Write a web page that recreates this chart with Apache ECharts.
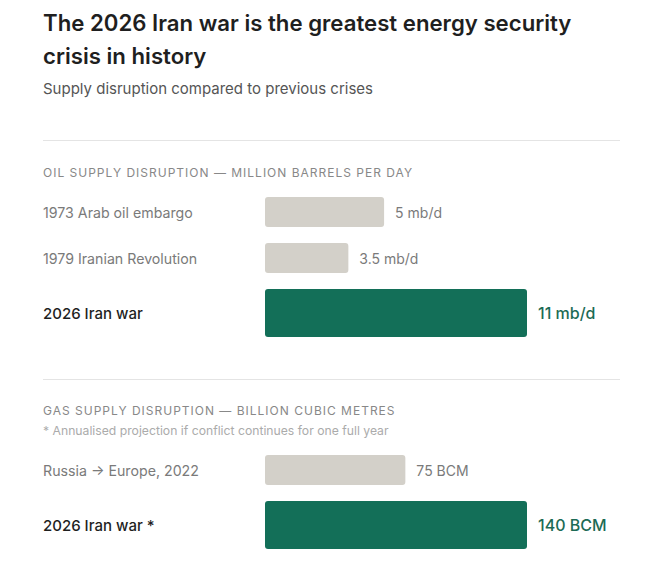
<!DOCTYPE html>
<html>
<head>
<meta charset="utf-8">
<script src="https://cdn.jsdelivr.net/npm/echarts@6/dist/echarts.min.js"></script>
<style>
  html, body { margin: 0; padding: 0; background: #ffffff; }
  #chart { width: 659px; height: 585px; }
  /* tracking for the small-caps section headers */
  #chart svg text[style*="sectioncaps"] { letter-spacing: 1px; }
</style>
</head>
<body>
<div id="chart"></div>
<script>
// ---- Data ----
const titleText = 'The 2026 Iran war is the greatest energy security\ncrisis in history';
const subtitleText = 'Supply disruption compared to previous crises';

const oilSectionLabel = 'OIL SUPPLY DISRUPTION — MILLION BARRELS PER DAY';
const oilCategories = ['1973 Arab oil embargo', '1979 Iranian Revolution', '2026 Iran war'];
const oilValues = [5, 3.5, 11];
const oilHighlight = [false, false, true];
const oilUnit = 'mb/d';

const gasSectionLabel = 'GAS SUPPLY DISRUPTION — BILLION CUBIC METRES';
const gasFootnote = '* Annualised projection if conflict continues for one full year';
const gasCategories = ['Russia → Europe, 2022', '2026 Iran war *'];
const gasValues = [75, 140];
const gasHighlight = [false, true];
const gasUnit = 'BCM';

// ---- Styles / layout ----
const FONT = 'Inter, "Noto Sans", "Liberation Sans", sans-serif';
const CAPS_FONT = 'Inter, sectioncaps, "Noto Sans", sans-serif';
const GRAY_BAR = '#d3d0c9';
const GREEN_BAR = '#136f58';
const GREEN_TEXT = '#1c6b55';
const LEFT = 43;
const BAR_LEFT = 265;
const BAR_WIDTH = 262;
const ROW_GAP = 16;
const NORMAL_H = 30;
const HIGHLIGHT_H = 48;

const grids = [], xAxes = [], yAxes = [], series = [];

function addSection(categories, values, highlight, unit, startTop) {
  const max = Math.max(...values);
  let top = startTop;
  categories.forEach((cat, i) => {
    const hl = highlight[i];
    const h = hl ? HIGHLIGHT_H : NORMAL_H;
    const idx = grids.length;
    grids.push({ left: BAR_LEFT, top: top, width: BAR_WIDTH, height: h, containLabel: false });
    xAxes.push({ type: 'value', gridIndex: idx, min: 0, max: max, show: false });
    yAxes.push({
      type: 'category', gridIndex: idx, data: [cat],
      axisLine: { show: false }, axisTick: { show: false }, splitLine: { show: false },
      axisLabel: {
        align: 'left', margin: BAR_LEFT - LEFT,
        fontFamily: FONT,
        fontSize: hl ? 15 : 14.2,
        color: hl ? '#1f1f1f' : '#7a7a7a',
        fontWeight: hl ? 500 : 400
      }
    });
    series.push({
      type: 'bar', xAxisIndex: idx, yAxisIndex: idx,
      data: [values[i]],
      barWidth: '100%',
      silent: true,
      itemStyle: { color: hl ? GREEN_BAR : GRAY_BAR, borderRadius: 3 },
      label: {
        show: true, position: 'right', distance: 11,
        formatter: p => p.value + ' ' + unit,
        fontFamily: FONT,
        fontSize: hl ? 16 : 14,
        fontWeight: hl ? 500 : 400,
        color: hl ? GREEN_TEXT : '#7a7a7a'
      }
    });
    top += h + ROW_GAP;
  });
}

addSection(oilCategories, oilValues, oilHighlight, oilUnit, 197);
addSection(gasCategories, gasValues, gasHighlight, gasUnit, 455);

const titleLines = titleText.split('\n');

const graphic = [
  { type: 'text', x: LEFT, y: 22, silent: true, style: { text: titleLines[0], fontFamily: FONT, fontSize: 22.2, fontWeight: 600, fill: '#1f1f1f', verticalAlign: 'middle' } },
  { type: 'text', x: LEFT, y: 55, silent: true, style: { text: titleLines[1], fontFamily: FONT, fontSize: 22.2, fontWeight: 600, fill: '#1f1f1f', verticalAlign: 'middle' } },
  { type: 'text', x: LEFT, y: 88, silent: true, style: { text: subtitleText, fontFamily: FONT, fontSize: 15, fill: '#555555', verticalAlign: 'middle' } },
  { type: 'line', silent: true, shape: { x1: LEFT, y1: 140.5, x2: 620, y2: 140.5 }, style: { stroke: '#e4e4e4', lineWidth: 1 } },
  { type: 'text', x: LEFT, y: 172, silent: true, style: { text: oilSectionLabel, fontFamily: CAPS_FONT, fontSize: 12, fill: '#888888', verticalAlign: 'middle' } },
  { type: 'line', silent: true, shape: { x1: LEFT, y1: 379.5, x2: 620, y2: 379.5 }, style: { stroke: '#e4e4e4', lineWidth: 1 } },
  { type: 'text', x: LEFT, y: 410, silent: true, style: { text: gasSectionLabel, fontFamily: CAPS_FONT, fontSize: 12, fill: '#888888', verticalAlign: 'middle' } },
  { type: 'text', x: LEFT, y: 430, silent: true, style: { text: gasFootnote, fontFamily: FONT, fontSize: 12.2, fill: '#ababab', verticalAlign: 'middle' } }
];

const chart = echarts.init(document.getElementById('chart'), null, { renderer: 'svg' });
chart.setOption({
  backgroundColor: '#ffffff',
  animation: false,
  grid: grids,
  xAxis: xAxes,
  yAxis: yAxes,
  series: series,
  graphic: graphic
});
</script>
</body>
</html>
